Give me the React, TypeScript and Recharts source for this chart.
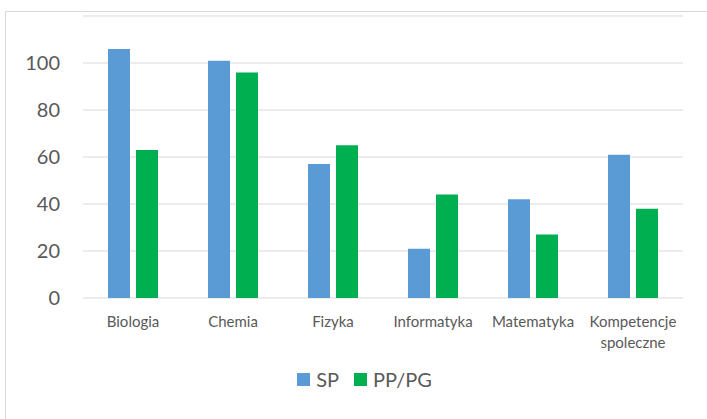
import { BarChart, Bar, XAxis, YAxis, CartesianGrid, Legend, Text } from "recharts";

const subjects = ["Biologia", "Chemia", "Fizyka", "Informatyka", "Matematyka", "Kompetencje spoleczne"];
const spValues = [106, 101, 57, 21, 42, 61];
const ppValues = [63, 96, 65, 44, 27, 38];
const yTicks = [0, 20, 40, 60, 80, 100];
const seriesNames = ["SP", "PP/PG"];

const data = subjects.map((name, i) => ({ name, sp: spValues[i], pp: ppValues[i] }));

const FONT = "Lato, 'Open Sans', sans-serif";
const TEXT_COLOR = "#595959";

function SubjectTick(props: any) {
  const { x, y, payload } = props;
  return (
    <Text
      x={x}
      y={y}
      width={92}
      textAnchor="middle"
      verticalAnchor="start"
      fontSize={15}
      fontFamily={FONT}
      fill={TEXT_COLOR}
      lineHeight={21}
    >
      {payload.value}
    </Text>
  );
}

function LegendContent(props: any) {
  // keep series order (SP first), recharts sorts by name otherwise
  const items = [...(props.payload || [])].sort(
    (a: any, b: any) => seriesNames.indexOf(a.value) - seriesNames.indexOf(b.value)
  );
  return (
    <div style={{ display: "flex", justifyContent: "center", alignItems: "center", height: 24, paddingLeft: 22 }}>
      {items.map((item: any, i: number) => (
        <div key={item.value} style={{ display: "flex", alignItems: "center", marginLeft: i > 0 ? 15 : 0 }}>
          <span style={{ width: 13, height: 13, background: item.color, display: "inline-block", marginRight: 6 }} />
          <span style={{ fontSize: 20, fontFamily: FONT, color: TEXT_COLOR, lineHeight: "24px" }}>{item.value}</span>
        </div>
      ))}
    </div>
  );
}

export default function App() {
  return (
    <div style={{ position: "absolute", left: 0, top: 0, width: 707, height: 419, overflow: "hidden", background: "#fff" }}>
      <div
        style={{
          position: "absolute",
          left: 5,
          top: 11,
          width: 740,
          height: 440,
          border: "1px solid #D9D9D9",
        }}
      />
      <div style={{ position: "absolute", left: 0, top: 0 }}>
        <BarChart
          width={707}
          height={419}
          data={data}
          margin={{ top: 16, right: 24, left: 20, bottom: 67 }}
          barSize={22}
          barGap={6}
        >
          <CartesianGrid vertical={false} stroke="#D9D9D9" strokeWidth={1} />
          <XAxis
            dataKey="name"
            axisLine={false}
            tickLine={false}
            height={30}
            interval={0}
            tickMargin={12}
            tick={<SubjectTick />}
          />
          <YAxis
            domain={[0, 120]}
            ticks={yTicks}
            axisLine={false}
            tickLine={false}
            width={63}
            tickSize={0}
            tickMargin={23}
            tick={{ fontSize: 20, fontFamily: FONT, fill: TEXT_COLOR }}
          />
          <Legend
            verticalAlign="bottom"
            height={24}
            content={<LegendContent />}
            wrapperStyle={{ top: 367, left: 0, width: 707 }}
          />
          <Bar dataKey="sp" name="SP" fill="#5B9BD5" isAnimationActive={false} />
          <Bar dataKey="pp" name="PP/PG" fill="#00B050" isAnimationActive={false} />
        </BarChart>
      </div>
    </div>
  );
}
